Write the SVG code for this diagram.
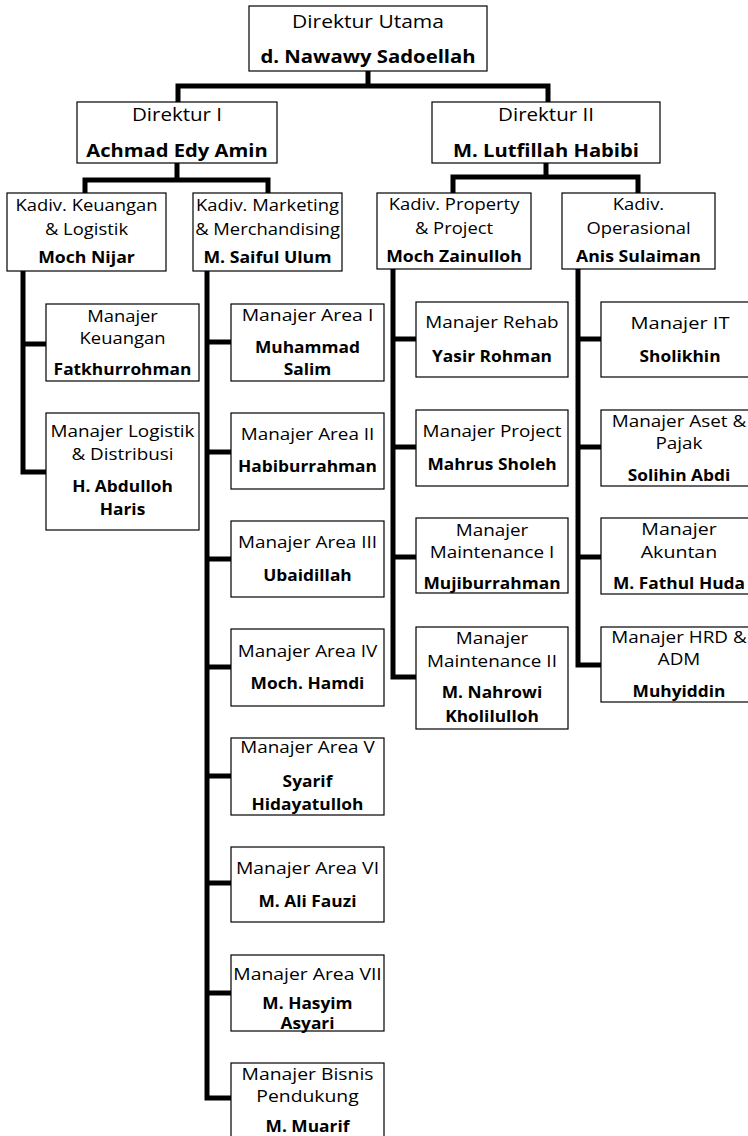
<svg xmlns="http://www.w3.org/2000/svg" width="748" height="1136" viewBox="0 0 748 1136">
<style>
.box{fill:#fff;stroke:#000;stroke-width:1.2}
text{font-family:"Open Sans","Noto Sans",sans-serif;text-anchor:middle;fill:#000}
.b{font-weight:bold}
.l0 text{font-size:17.8px}
.l0 .b{font-size:18.5px}
.l1 text{font-size:17.4px}
.l1 .b{font-size:18.4px}
.l2 text{font-size:15.6px}
.l2 .b{font-size:16.1px}
.l3 text{font-size:16px}
.l3 .b{font-size:15.8px}
.l3 .big{font-size:16.4px}
.c{fill:none;stroke:#000;stroke-width:5;stroke-linejoin:miter;stroke-linecap:butt}
</style>
<rect width="748" height="1136" fill="#fff"/>
<g id="connectors">
<path class="c" d="M368,71 V86"/>
<path class="c" d="M178,102 V86 H548 V102"/>
<path class="c" d="M177,163 V180"/>
<path class="c" d="M85,193 V180 H268 V193"/>
<path class="c" d="M546,163 V177"/>
<path class="c" d="M453,193 V177 H638 V193"/>
<path class="c" d="M23,271 V472 H46"/>
<path class="c" d="M23,344 H46"/>
<path class="c" d="M207,271 V1098 H231"/>
<path class="c" d="M207,342 H231 M207,452 H231 M207,559 H231 M207,667 H231 M207,776 H231 M207,883 H231 M207,993 H231"/>
<path class="c" d="M393,269 V677 H416"/>
<path class="c" d="M393,339 H416 M393,447 H416 M393,557 H416"/>
<path class="c" d="M578,269 V665 H601"/>
<path class="c" d="M578,339 H601 M578,447 H601 M578,557 H601"/>
</g>
<g id="dirut"><rect class="box" x="249" y="6" width="238" height="65"/>
<g class="l0" transform="translate(368,0) scale(1.18,1)"><text y="28">Direktur Utama</text><text class="b" transform="scale(.93,1)" y="63">d. Nawawy Sadoellah</text></g></g>
<g id="dir1"><rect class="box" x="77" y="102" width="200" height="61"/>
<g class="l1" transform="translate(177,0) scale(1.18,1)"><text y="121">Direktur I</text><text class="b" transform="scale(.93,1)" y="157">Achmad Edy Amin</text></g></g>
<g id="dir2"><rect class="box" x="432" y="102" width="228" height="61"/>
<g class="l1" transform="translate(546,0) scale(1.18,1)"><text y="121">Direktur II</text><text class="b" transform="scale(.93,1)" y="157">M. Lutfillah Habibi</text></g></g>
<g id="kadiv-keu"><rect class="box" x="7" y="193" width="159" height="78"/>
<g class="l2" transform="translate(86.5,0) scale(1.18,1)"><text y="211">Kadiv. Keuangan</text><text y="235">&amp; Logistik</text><text class="b" transform="scale(.93,1)" y="263">Moch Nijar</text></g></g>
<g id="kadiv-mkt"><rect class="box" x="193" y="193" width="149" height="78"/>
<g class="l2" transform="translate(267.5,0) scale(1.18,1)"><text y="211">Kadiv. Marketing</text><text y="235">&amp; Merchandising</text><text class="b" transform="scale(.93,1)" y="263">M. Saiful Ulum</text></g></g>
<g id="kadiv-prop"><rect class="box" x="377" y="193" width="154" height="76"/>
<g class="l2" transform="translate(454,0) scale(1.18,1)"><text y="210">Kadiv. Property</text><text y="234">&amp; Project</text><text class="b" transform="scale(.93,1)" y="262">Moch Zainulloh</text></g></g>
<g id="kadiv-ops"><rect class="box" x="562" y="193" width="153" height="76"/>
<g class="l2" transform="translate(638.5,0) scale(1.18,1)"><text y="210">Kadiv.</text><text y="234">Operasional</text><text class="b" transform="scale(.93,1)" y="262">Anis Sulaiman</text></g></g>
<g id="m-keu"><rect class="box" x="46" y="304" width="153" height="77"/>
<g class="l3" transform="translate(122.5,0) scale(1.18,1)"><text y="322" style="font-size:15.6px">Manajer</text><text y="344" style="font-size:15.6px">Keuangan</text><text class="b" transform="scale(.93,1)" y="375">Fatkhurrohman</text></g></g>
<g id="m-log"><rect class="box" x="46" y="413" width="153" height="117"/>
<g class="l3" transform="translate(122.5,0) scale(1.18,1)"><text y="437">Manajer Logistik</text><text y="460">&amp; Distribusi</text><text class="b" transform="scale(.93,1)" y="492">H. Abdulloh</text><text class="b" transform="scale(.93,1)" y="515">Haris</text></g></g>
<g id="area1"><rect class="box" x="231" y="304" width="153" height="77"/>
<g class="l3" transform="translate(307.5,0) scale(1.18,1)"><text class="big" y="321">Manajer Area I</text><text class="b" transform="scale(.93,1)" y="353">Muhammad</text><text class="b" transform="scale(.93,1)" y="375">Salim</text></g></g>
<g id="area2"><rect class="box" x="231" y="413" width="153" height="76"/>
<g class="l3" transform="translate(307.5,0) scale(1.18,1)"><text y="440">Manajer Area II</text><text class="b" transform="scale(.93,1)" y="472">Habiburrahman</text></g></g>
<g id="area3"><rect class="box" x="231" y="521" width="153" height="76"/>
<g class="l3" transform="translate(307.5,0) scale(1.18,1)"><text y="548">Manajer Area III</text><text class="b" transform="scale(.93,1)" y="581">Ubaidillah</text></g></g>
<g id="area4"><rect class="box" x="231" y="629" width="153" height="77"/>
<g class="l3" transform="translate(307.5,0) scale(1.18,1)"><text y="657">Manajer Area IV</text><text class="b" transform="scale(.93,1)" y="689">Moch. Hamdi</text></g></g>
<g id="area5"><rect class="box" x="231" y="738" width="153" height="77"/>
<g class="l3" transform="translate(307.5,0) scale(1.18,1)"><text y="753">Manajer Area V</text><text class="b" transform="scale(.93,1)" y="787">Syarif</text><text class="b" transform="scale(.93,1)" y="810">Hidayatulloh</text></g></g>
<g id="area6"><rect class="box" x="231" y="847" width="153" height="75"/>
<g class="l3" transform="translate(307.5,0) scale(1.18,1)"><text class="big" y="874">Manajer Area VI</text><text class="b" transform="scale(.93,1)" y="907">M. Ali Fauzi</text></g></g>
<g id="area7"><rect class="box" x="231" y="955" width="153" height="76"/>
<g class="l3" transform="translate(307.5,0) scale(1.18,1)"><text class="big" y="980">Manajer Area VII</text><text class="b" transform="scale(.93,1)" y="1009">M. Hasyim</text><text class="b" transform="scale(.93,1)" y="1029">Asyari</text></g></g>
<g id="bisnis"><rect class="box" x="231" y="1063" width="153" height="82"/>
<g class="l3" transform="translate(307.5,0) scale(1.18,1)"><text class="big" y="1080">Manajer Bisnis</text><text class="big" y="1102">Pendukung</text><text class="b" transform="scale(.93,1)" y="1132">M. Muarif</text></g></g>
<g id="rehab"><rect class="box" x="416" y="302" width="152" height="75"/>
<g class="l3" transform="translate(492,0) scale(1.18,1)"><text y="328">Manajer Rehab</text><text class="b" transform="scale(.93,1)" y="362">Yasir Rohman</text></g></g>
<g id="project"><rect class="box" x="416" y="410" width="152" height="76"/>
<g class="l3" transform="translate(492,0) scale(1.18,1)"><text y="437">Manajer Project</text><text class="b" transform="scale(.93,1)" y="470">Mahrus Sholeh</text></g></g>
<g id="maint1"><rect class="box" x="416" y="518" width="152" height="75"/>
<g class="l3" transform="translate(492,0) scale(1.18,1)"><text y="536">Manajer</text><text y="558">Maintenance I</text><text class="b" transform="scale(.93,1)" y="589">Mujiburrahman</text></g></g>
<g id="maint2"><rect class="box" x="416" y="627" width="152" height="102"/>
<g class="l3" transform="translate(492,0) scale(1.18,1)"><text y="644">Manajer</text><text y="667">Maintenance II</text><text class="b" transform="scale(.93,1)" y="698">M. Nahrowi</text><text class="b" transform="scale(.93,1)" y="722">Kholilulloh</text></g></g>
<g id="it"><rect class="box" x="601" y="302" width="159" height="75"/>
<g class="l3" transform="translate(680,0) scale(1.18,1)"><text y="329" style="font-size:17px">Manajer IT</text><text class="b" transform="scale(.93,1)" y="362">Sholikhin</text></g></g>
<g id="aset"><rect class="box" x="601" y="410" width="159" height="76"/>
<g class="l3" transform="translate(679,0) scale(1.18,1)"><text y="427">Manajer Aset &amp;</text><text y="449">Pajak</text><text class="b" transform="scale(.93,1)" y="481">Solihin Abdi</text></g></g>
<g id="akuntan"><rect class="box" x="601" y="518" width="159" height="76"/>
<g class="l3" transform="translate(679,0) scale(1.18,1)"><text y="535" style="font-size:16.6px">Manajer</text><text y="558" style="font-size:16.6px">Akuntan</text><text class="b" transform="scale(.93,1)" y="589">M. Fathul Huda</text></g></g>
<g id="hrd"><rect class="box" x="601" y="627" width="159" height="75"/>
<g class="l3" transform="translate(679,0) scale(1.18,1)"><text y="643">Manajer HRD &amp;</text><text y="665">ADM</text><text class="b" transform="scale(.93,1)" y="697">Muhyiddin</text></g></g>
</svg>
